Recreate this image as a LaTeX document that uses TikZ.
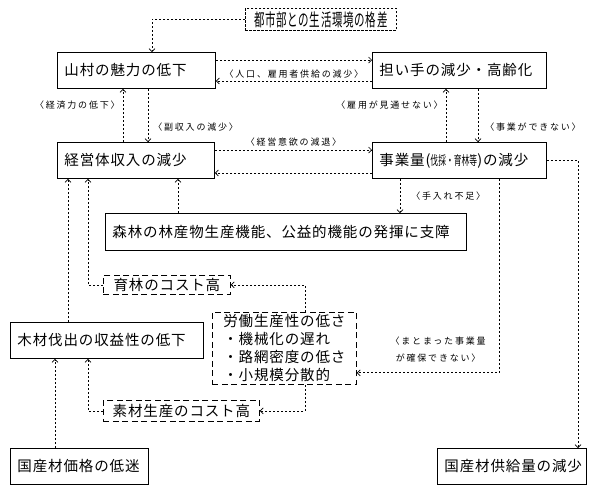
\documentclass[tikz,border=0pt]{standalone}
\usepackage{fontspec}
\setmainfont{Noto Sans CJK JP}[LetterSpace=6]
\newfontfamily\jpnarrow{Noto Sans CJK JP}[FakeStretch=0.6, LetterSpace=4]
\newfontfamily\jptiny{Noto Sans CJK JP}[FakeStretch=0.6]
\newfontfamily\jplabel{Noto Sans CJK JP}[LetterSpace=20]
\usetikzlibrary{arrows.meta}

\begin{document}
\begin{tikzpicture}[
    x=1pt, y=-1pt,
    font=\fontsize{14.5}{18}\selectfont,
    mainbox/.style={
        draw,
        line width=0.9pt,
        anchor=north west,
        align=left,
        text width=#1,
        minimum height=36pt,
        inner xsep=7pt,
        inner ysep=0pt
    },
    costbox/.style={
        draw,
        line width=0.8pt,
        dash pattern=on 6pt off 3.5pt,
        anchor=north west,
        align=left,
        inner xsep=6pt,
        inner ysep=0pt
    },
    conn/.style={-{Straight Barb[length=3pt,width=6pt]}, line width=0.7pt, dash pattern=on 2pt off 2pt},
    lbl/.style={font=\jplabel\fontsize{9}{17}\selectfont, inner sep=3pt}
]
\fill[white] (0,0) rectangle (600,491);
\useasboundingbox (0,0) rectangle (600,491);

% ------------------------
% Top row
% ------------------------
\node[draw, line width=0.8pt, dash pattern=on 2.5pt off 1.5pt, anchor=north west,
      minimum width=151pt, minimum height=22pt, inner sep=0pt] (toshi) at (245,8)
{\jpnarrow\fontsize{17.5}{18}\selectfont 都市部との生活環境の格差};

\node[mainbox=144pt] (sanson) at (57,52) {山村の魅力の低下};
\node[mainbox=160pt] (ninaite) at (372,52) {担い手の減少・高齢化};

% ------------------------
% Middle row
% ------------------------
\node[mainbox=143pt] (keiei) at (57,142) {経営体収入の減少};
\node[mainbox=160pt] (jigyo) at (372,142)
{事業量({\jptiny\fontsize{13}{18}\selectfont 伐採・育林等})の減少};

\node[mainbox=347pt, minimum height=37pt] (shinrin) at (105,213)
{森林の林産物生産機能、公益的機能の発揮に支障};

% ------------------------
% Costs (left)
% ------------------------
\node[costbox, minimum width=127pt, minimum height=19pt] (ikurin) at (103,275)
{育林のコスト高};

\node[costbox, minimum width=144pt, minimum height=72pt] (roudou) at (212,312)
{労働生産性の低さ\\
・機械化の遅れ\\
・路網密度の低さ\\
・小規模分散的};

\node[mainbox=179pt] (mokuzai) at (10,322) {木材伐出の収益性の低下};

\node[costbox, minimum width=156pt, minimum height=21pt] (sozai) at (103,400)
{素材生産のコスト高};

% ------------------------
% Bottom row
% ------------------------
\node[mainbox=124pt] (kakaku) at (10,448) {国産材価格の低迷};
\node[mainbox=135pt] (kyokyu) at (437,448) {国産材供給量の減少};

% ------------------------
% Arrows
% ------------------------
\draw[conn] (toshi.west) -| ([xshift=95pt]sanson.north west);

\draw[conn] ([yshift=-8pt]sanson.north east) -- ([yshift=-8pt]ninaite.north west);
\draw[conn] ([yshift=8pt]ninaite.south west) -- ([yshift=8pt]sanson.south east)
    node[lbl, midway, above, yshift=-1pt] {〈人口、雇用者供給の減少〉};

\draw[conn] ([xshift=66pt]keiei.north west) -- ([xshift=66pt]sanson.south west)
    node[lbl, pos=0.7, left] {〈経済力の低下〉};
\draw[conn] ([xshift=91pt]sanson.south west) -- ([xshift=91pt]keiei.north west)
    node[lbl, pos=0.72, right, xshift=2pt] {〈副収入の減少〉};

\draw[conn] ([xshift=74pt]jigyo.north west) -- ([xshift=74pt]ninaite.south west)
    node[lbl, pos=0.7, left] {〈雇用が見通せない〉};
\draw[conn] ([xshift=106pt]ninaite.south west) -- ([xshift=106pt]jigyo.north west)
    node[lbl, pos=0.72, right, xshift=4pt] {〈事業ができない〉};

\draw[conn] ([yshift=-8pt]keiei.north east) -- ([yshift=-8pt]jigyo.north west)
    node[lbl, midway, above] {〈経営意欲の減退〉};
\draw[conn] ([yshift=6pt]jigyo.south west) -- ([yshift=6pt]keiei.south east);

\draw[conn] ([xshift=28pt]jigyo.south west) coordinate (tein) -- (tein |- shinrin.north)
    node[lbl, pos=0.5, right, xshift=8pt] {〈手入れ不足〉};
\draw[conn] ([xshift=73pt]shinrin.north west) coordinate (kino) -- (kino |- keiei.south);

\draw[conn] ([xshift=127pt]jigyo.south west) |- ([yshift=12pt]roudou.south east)
    node[lbl, pos=0.44, left, align=center, xshift=-10pt] {〈まとまった事業量\\が確保できない〉};
\draw[conn] (jigyo.east) -| ([xshift=141pt]kyokyu.north west);

\draw[conn] ([xshift=93pt]roudou.north west) |- (ikurin.east);
\draw[conn] ([xshift=93pt]roudou.south west) |- (sozai.east);

\draw[conn] (ikurin.west) -| ([xshift=31pt]keiei.south west);
\draw[conn] ([xshift=58pt]mokuzai.north west) coordinate (shueki) -- (shueki |- keiei.south);
\draw[conn] (sozai.west) -| ([xshift=78pt]mokuzai.south west);
\draw[conn] ([xshift=45pt]kakaku.north west) -- ([xshift=45pt]mokuzai.south west);

\end{tikzpicture}
\end{document}
